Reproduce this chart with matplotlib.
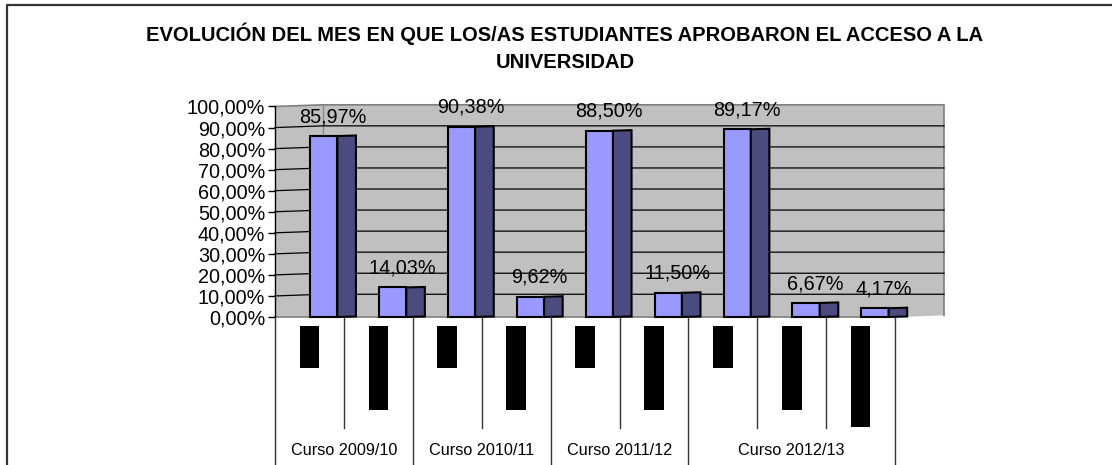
import matplotlib
matplotlib.use("Agg")
import matplotlib.pyplot as plt
from matplotlib.patches import Rectangle, Polygon
from matplotlib.lines import Line2D
from matplotlib.ticker import FuncFormatter
import numpy as np

plt.rcParams['font.family'] = ['Liberation Sans', 'DejaVu Sans']

# data
cursos = ["Curso 2009/10", "Curso 2010/11", "Curso 2011/12", "Curso 2012/13"]
meses = ["Junio", "Septiembre", "Junio", "Septiembre", "Junio", "Septiembre",
         "Junio", "Septiembre", "Extraordinaria"]
curso_idx = [0, 0, 1, 1, 2, 2, 3, 3, 3]
valores = [85.97, 14.03, 90.38, 9.62, 88.50, 11.50, 89.17, 6.67, 4.17]
y_ticks = [0, 10, 20, 30, 40, 50, 60, 70, 80, 90, 100]

W, H = 1112, 465
fig = plt.figure(figsize=(W / 100, H / 100), dpi=100)


def px_box(x0, y0, x1, y1):
    # pixel box (top-left origin) -> figure fraction rect
    return [x0 / W, 1 - y1 / H, (x1 - x0) / W, (y1 - y0) / H]


n = len(valores)
unit = 68.9                      # px per category
x_right = (944 - 275) / unit     # wall reaches past the last category
dx, dy = 48 / unit, 0.8          # 3d depth offset of the back wall

ax = fig.add_axes(px_box(275, 106.5, 944, 317))
ax.set_xlim(0, x_right)
ax.set_ylim(0, 100)
ax.patch.set_visible(False)
for s in ["top", "right", "bottom"]:
    ax.spines[s].set_visible(False)
ax.spines["left"].set_linewidth(1.0)
ax.set_xticks([])
ax.set_yticks(y_ticks)
ax.yaxis.set_major_formatter(FuncFormatter(lambda v, p: f"{v:.2f}%".replace(".", ",")))
ax.tick_params(axis="y", direction="out", length=5, width=1.0, pad=2, labelsize=14.3)

# wall (side + back) in grey
wall = Polygon([(0, 0), (0, 100), (dx, 100 + dy), (x_right, 100 + dy), (x_right, dy),
                (n + 0.1, 0)], closed=True, facecolor="#C0C0C0", edgecolor="none",
               zorder=0, clip_on=False)
ax.add_patch(wall)
ax.plot([0, dx, x_right, x_right], [100, 100 + dy, 100 + dy, dy], color="#7F7F7F",
        lw=1.2, zorder=1, clip_on=False)
ax.plot([dx, dx], [dy, 100 + dy], color="#8C8C8C", lw=1.0, zorder=1, clip_on=False)
ax.plot([0, n], [0, 0], color="#808080", lw=1.2, zorder=1, clip_on=False)
for v in y_ticks[1:-1]:
    ax.plot([0, dx, x_right], [v, v + dy, v + dy], color="black", lw=0.9, zorder=1,
            clip_on=False)

# 3d-looking bars: light front face + dark side face
off, fw, sw = 0.51, 0.395, 0.27
for i, v in enumerate(valores):
    ax.add_patch(Rectangle((i + off, 0), fw, v, facecolor="#9999FF", edgecolor="black",
                           lw=1.5, zorder=3, clip_on=False))
    ax.add_patch(Polygon([(i + off + fw, 0), (i + off + fw, v), (i + off + fw + sw, v + 0.25),
                          (i + off + fw + sw, 0.25)], closed=True, facecolor="#4B4B7F",
                         edgecolor="black", lw=1.5, zorder=3, clip_on=False))
    ax.annotate(f"{v:.2f}%".replace(".", ","), xy=(i + off + (fw + sw) / 2, v),
                xytext=(0, 14), textcoords="offset points", ha="center", va="center",
                fontsize=14.3, zorder=4, annotation_clip=False)

# category table below the plot
axt = fig.add_axes(px_box(275, 317, 944, 465))
axt.set_xlim(0, x_right)
axt.set_ylim(148, 0)
axt.axis("off")
group_starts = [0] + [i for i in range(1, n) if curso_idx[i] != curso_idx[i - 1]] + [n]
for i in range(n + 1):
    bottom = 148 if i in group_starts else 111
    axt.plot([i, i], [0, bottom], color="#333333", lw=1.0, clip_on=False)
# month labels appear blacked out in the original
for i, m in enumerate(meses):
    axt.text(i + 0.5, 11.5, m, rotation=90, ha="center", va="top", fontsize=11.2,
             color="black", bbox=dict(boxstyle="square,pad=0.15", facecolor="black",
                                      edgecolor="none"))
for g, c in enumerate(cursos):
    a, b = group_starts[g], group_starts[g + 1]
    axt.text((a + b) / 2, 133, c, ha="center", va="center", fontsize=11.7)

# title
fig.text(565 / W, 1 - 34 / H, "EVOLUCIÓN DEL MES EN QUE LOS/AS ESTUDIANTES APROBARON EL ACCESO A LA",
         ha="center", va="center", fontsize=14.5, fontweight="bold")
fig.text(565 / W, 1 - 62 / H, "UNIVERSIDAD", ha="center", va="center", fontsize=14.5,
         fontweight="bold")

# outer chart frame (left and top edges visible)
fig.add_artist(Line2D([7 / W, 7 / W, 1], [0, 1 - 5 / H, 1 - 5 / H], color="#333333", lw=1.6))

fig.savefig("out.png", dpi=100)
